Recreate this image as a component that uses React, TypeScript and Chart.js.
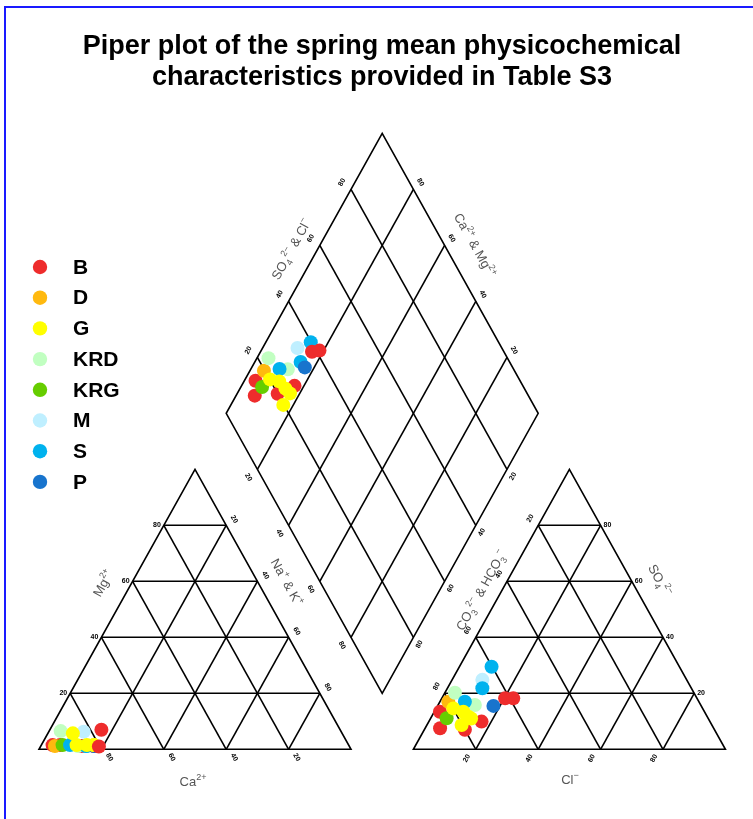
import React, { useEffect, useRef } from 'react';
import { Chart, registerables } from 'chart.js';
Chart.register(...registerables);

// ---------- data ----------
const TITLE_LINES = ['Piper plot of the spring mean physicochemical', 'characteristics provided in Table S3'];
const LEGEND_GROUPS = ['B', 'D', 'G', 'KRD', 'KRG', 'M', 'S', 'P'];
const GROUP_COLORS = ['#EE2C2C', '#FFB90F', '#FFFF00', '#C1FFC1', '#66CD00', '#BFEFFF', '#00B2EE', '#1874CD'];
// samples (percent of meq): cations Ca, Mg (Na+K = rest); anions Cl, SO4 (CO3+HCO3 = rest)
const SAMPLE_GROUP = ['B', 'B', 'B', 'B', 'D', 'KRD', 'KRD', 'KRG', 'M', 'S', 'S', 'S', 'P', 'G', 'G', 'G', 'G', 'G', 'B', 'B'];
const CA = [94.9, 92.5, 85.8, 81.8, 94.3, 89.8, 86.9, 91.7, 82.5, 84.4, 84.1, 89.3, 81.8, 86.3, 87.2, 83.9, 81.6, 81.7, 76.5, 80.3];
const MG = [1.5, 1.5, 1.2, 1.2, 1.2, 6.5, 1.2, 1.5, 6.3, 1.2, 1.2, 1.5, 1.2, 5.7, 1.5, 1.5, 1.5, 1.5, 7.0, 1.0];
const CL = [1.8, 4.8, 13.0, 16.9, 2.7, 3.2, 11.8, 5.1, 9.7, 10.3, 11.2, 8.0, 17.9, 5.5, 9.3, 11.8, 13.0, 11.1, 20.3, 22.9];
const SO4 = [13.4, 7.5, 7.0, 9.9, 17.0, 20.2, 15.8, 11.1, 24.8, 29.5, 21.8, 17.0, 15.5, 14.6, 13.4, 11.6, 11.0, 8.7, 18.2, 18.2];
const TICKS = [20, 40, 60, 80];

// ---------- piper geometry (data units: triangle side = 1 wide, 1 high) ----------
const GAP = 0.2;
const RX = 1 + GAP; // right triangle offset
function cationXY(ca: number, mg: number) {
  const n = (100 - ca - mg) / 100, m = mg / 100;
  return { x: n + m / 2, y: m };
}
function anionXY(cl: number, so4: number) {
  const c = cl / 100, s = so4 / 100;
  return { x: RX + c + s / 2, y: s };
}
function diamondXY(ca: number, mg: number, cl: number, so4: number) {
  const n = (100 - ca - mg) / 100, s = (cl + so4) / 100;
  return { x: 0.5 + GAP / 2 + (n + s) / 2, y: 1 + GAP + s - n };
}

const pts: { x: number; y: number }[] = [];
const cols: string[] = [];
for (let i = 0; i < CA.length; i++) {
  const col = GROUP_COLORS[LEGEND_GROUPS.indexOf(SAMPLE_GROUP[i])];
  pts.push(cationXY(CA[i], MG[i])); cols.push(col);
  pts.push(anionXY(CL[i], SO4[i])); cols.push(col);
  pts.push(diamondXY(CA[i], MG[i], CL[i], SO4[i])); cols.push(col);
}

type Seg = [string, number];
const FONT = '"Liberation Sans", Arial, sans-serif';

function drawRich(ctx: CanvasRenderingContext2D, segs: Seg[], cx: number, cy: number, angle: number, size: number, color: string) {
  ctx.save();
  ctx.translate(cx, cy);
  ctx.rotate(angle);
  const small = Math.round(size * 0.72);
  let w = 0;
  for (const [t, k] of segs) { ctx.font = `${k ? small : size}px ${FONT}`; w += ctx.measureText(t).width; }
  let x = -w / 2;
  ctx.fillStyle = color;
  ctx.textBaseline = 'alphabetic';
  ctx.textAlign = 'left';
  for (const [t, k] of segs) {
    ctx.font = `${k ? small : size}px ${FONT}`;
    const dy = k === 1 ? -size * 0.45 : k === -1 ? size * 0.28 : 0;
    ctx.fillText(t, x, size * 0.36 + dy);
    x += ctx.measureText(t).width;
  }
  ctx.restore();
}

const ANG = Math.atan2(280, 156);

const piperPlugin = {
  id: 'piper',
  beforeDraw(chart: any) {
    const ctx: CanvasRenderingContext2D = chart.ctx;
    ctx.save();
    ctx.fillStyle = '#ffffff';
    ctx.fillRect(0, 0, chart.width, chart.height);
    // frame
    ctx.strokeStyle = '#1a1aff';
    ctx.lineWidth = 2;
    ctx.beginPath();
    ctx.moveTo(5, chart.height + 5);
    ctx.lineTo(5, 7);
    ctx.lineTo(chart.width + 5, 7);
    ctx.stroke();
    // title
    ctx.fillStyle = '#000';
    ctx.font = `bold 27px ${FONT}`;
    ctx.textAlign = 'center';
    ctx.textBaseline = 'alphabetic';
    ctx.fillText(TITLE_LINES[0], 382, 54);
    ctx.fillText(TITLE_LINES[1], 382, 85);
    // legend
    LEGEND_GROUPS.forEach((g, i) => {
      const y = 267 + i * 30.7;
      ctx.fillStyle = GROUP_COLORS[i];
      ctx.beginPath();
      ctx.arc(40, y, 7.2, 0, Math.PI * 2);
      ctx.fill();
      ctx.fillStyle = '#000';
      ctx.font = `bold 21px ${FONT}`;
      ctx.textAlign = 'left';
      ctx.textBaseline = 'middle';
      ctx.fillText(g, 73, y + 1);
    });
    ctx.restore();
  },
  beforeDatasetsDraw(chart: any) {
    const ctx: CanvasRenderingContext2D = chart.ctx;
    const xs = chart.scales.x, ys = chart.scales.y;
    const P = (u: number, v: number) => [xs.getPixelForValue(u), ys.getPixelForValue(v)];
    ctx.save();
    ctx.strokeStyle = '#000';
    ctx.lineWidth = 1.6;
    ctx.lineJoin = 'miter';
    const poly = (arr: number[][], close = false) => {
      ctx.beginPath();
      arr.forEach(([u, v], i) => {
        const [px, py] = P(u, v);
        if (i === 0) ctx.moveTo(px, py); else ctx.lineTo(px, py);
      });
      if (close) ctx.closePath();
      ctx.stroke();
    };
    const tri = (ox: number) => {
      poly([[ox, 0], [ox + 1, 0], [ox + 0.5, 1]], true);
      TICKS.forEach((t) => {
        const f = t / 100;
        poly([[ox + f / 2, f], [ox + 1 - f / 2, f]]);
        poly([[ox + f, 0], [ox + (1 + f) / 2, 1 - f]]);
        poly([[ox + f, 0], [ox + f / 2, f]]);
      });
    };
    tri(0);
    tri(RX);
    const bx = 1 + GAP / 2, by = GAP;
    poly([[bx, by], [bx - 0.5, by + 1], [bx, by + 2], [bx + 0.5, by + 1]], true);
    TICKS.forEach((t) => {
      const f = t / 100;
      poly([[bx - 0.5 * f, by + f], [bx - 0.5 * f + 0.5, by + f + 1]]);
      poly([[bx + 0.5 * f, by + f], [bx + 0.5 * f - 0.5, by + f + 1]]);
    });

    // tick labels
    ctx.fillStyle = '#000';
    ctx.font = `bold 7px ${FONT}`;
    const tick = (txt: string, u: number, v: number, dx: number, dy: number, ang: number, align: CanvasTextAlign = 'center') => {
      const [px, py] = P(u, v);
      ctx.save();
      ctx.translate(px + dx, py + dy);
      ctx.rotate(ang);
      ctx.textAlign = align;
      ctx.textBaseline = 'middle';
      ctx.fillText(txt, 0, 0);
      ctx.restore();
    };
    TICKS.forEach((t) => {
      const f = t / 100;
      const inv = String(100 - t);
      // left triangle
      tick(String(t), f / 2, f, -3, 0, 0, 'right'); // Mg
      tick(inv, f, 0, 8, 8, ANG); // Ca
      tick(inv, 1 - f / 2, f, 8, -6, ANG); // Na+K
      // right triangle
      tick(String(t), RX + f, 0, -9, 9, -ANG); // Cl
      tick(String(t), RX + 1 - f / 2, f, 3, 0, 0, 'left'); // SO4
      tick(inv, RX + f / 2, f, -8, -7, -ANG); // CO3+HCO3
      // diamond
      tick(String(t), bx - 0.5 + 0.5 * f, by + 1 + f, -9, -7, -ANG); // SO4+Cl
      tick(inv, bx + 0.5 * f, by + 2 - f, 7, -7, ANG); // Ca+Mg
      tick(String(t), bx - 0.5 + 0.5 * f, by + 1 - f, -9, 8, ANG); // Na+K
      tick(String(t), bx + 0.5 - 0.5 * f, by + 1 - f, 6, 7, -ANG); // CO3+HCO3
    });

    // axis titles
    const g = '#555555';
    drawRich(ctx, [['Mg', 0], ['2+', 1]], 103, 583, -ANG, 13, g);
    drawRich(ctx, [['Na', 0], ['+', 1], [' & K', 0], ['+', 1]], 287, 582, ANG, 13, g);
    drawRich(ctx, [['Ca', 0], ['2+', 1]], 193, 781, 0, 13, g);
    drawRich(ctx, [['SO', 0], ['4', -1], ['2−', 1], [' & Cl', 0], ['−', 1]], 291, 249, -ANG, 13, g);
    drawRich(ctx, [['Ca', 0], ['2+', 1], [' & Mg', 0], ['2+', 1]], 475, 245, ANG, 13, g);
    drawRich(ctx, [['CO', 0], ['3', -1], ['2−', 1], [' & HCO', 0], ['3', -1], ['−', 1]], 481, 590, -ANG, 13, g);
    drawRich(ctx, [['SO', 0], ['4', -1], ['2−', 1]], 660, 580, ANG, 13, g);
    drawRich(ctx, [['Cl', 0], ['−', 1]], 570, 779, 0, 13, g);
    ctx.restore();
  },
};

export default function App() {
  const ref = useRef<HTMLCanvasElement>(null);
  useEffect(() => {
    const canvas = ref.current!;
    const chart = new Chart(canvas, {
      type: 'scatter',
      data: {
        datasets: [
          {
            label: 'samples',
            data: pts,
            pointRadius: 7,
            pointHoverRadius: 7,
            pointBorderWidth: 0,
            pointBackgroundColor: cols,
            pointBorderColor: cols,
          } as any,
        ],
      },
      options: {
        responsive: false,
        animation: false,
        layout: { padding: 0, autoPadding: false },
        plugins: { legend: { display: false }, title: { display: false }, tooltip: { enabled: false } },
        scales: {
          x: { type: 'linear', display: false, min: -39 / 312, max: (753 - 39) / 312 },
          y: { type: 'linear', display: false, min: (749.3 - 819) / 280, max: 749.3 / 280 },
        },
      },
      plugins: [piperPlugin],
    });
    return () => chart.destroy();
  }, []);
  return (
    <div style={{ position: 'fixed', left: 0, top: 0, width: 753, height: 819, background: '#fff' }}>
      <canvas ref={ref} width={753} height={819} style={{ width: 753, height: 819, display: 'block' }} />
    </div>
  );
}
